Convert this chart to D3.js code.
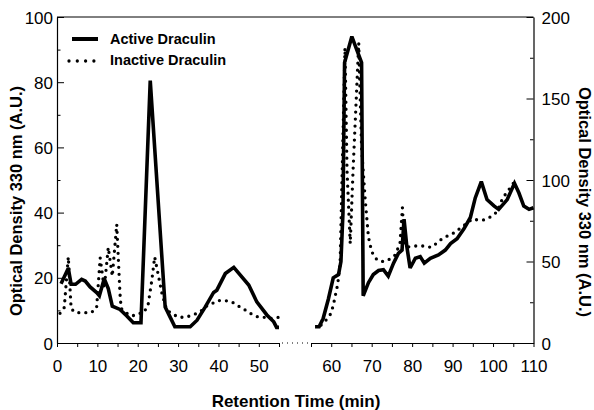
<!DOCTYPE html>
<html>
<head>
<meta charset="utf-8">
<script src="https://cdn.jsdelivr.net/npm/d3@7"></script>
<style>
  body { margin: 0; background: #fff; }
  svg text { font-family: "Liberation Sans", Arial, Helvetica, sans-serif; fill: #000; }
</style>
</head>
<body>
<svg id="chart" width="594" height="410"></svg>
<script>
// retention time (min) / optical density, left part read on the 0-100 axis
var activeTimeL = [1, 2.8, 3.5, 4.6, 6.1, 7, 8.2, 9.9, 10.5, 11.7, 12.7, 13.7, 15.6, 17.3, 18.9, 20.8, 23.1, 26.8, 28, 29.2, 33, 34.7, 36.7, 38.8, 39.6, 41.7, 43.8, 47.5, 49.5, 52, 53.7, 54.4, 55];
var activeValL = [18.2, 22.9, 18, 18, 19.5, 19, 17.2, 15.4, 14.5, 19.7, 16.7, 11.3, 10.3, 8.3, 6.2, 6.2, 80.5, 11, 8, 5, 5, 7, 11, 15.5, 16.2, 21.3, 23.2, 17.8, 12.6, 8.6, 6.5, 4.8, 4.8];
var inactiveTimeL = [0.75, 1.8, 2.8, 3.5, 4.6, 6.3, 8.4, 9.8, 10.7, 11.7, 12.7, 13.7, 14.8, 15.6, 15.9, 17.3, 18.7, 20.2, 21.2, 22.5, 23.5, 24.2, 26, 27.2, 28.4, 30.1, 31.8, 33.7, 35.5, 36.7, 38.4, 39.8, 41.7, 43.3, 45, 46.4, 47.9, 49.5, 51.2, 52.9, 55];
var inactiveValL = [9.1, 10.9, 26.4, 10.5, 9.3, 9.3, 9.3, 10.6, 26.1, 16.7, 29.3, 20.5, 36.4, 15.2, 10.6, 9.1, 8.3, 9.1, 9.1, 11.1, 19.3, 26.4, 15.2, 10.1, 9.1, 7.9, 7.9, 8.6, 9.6, 11.1, 12.1, 13, 13, 12.6, 11.3, 10.3, 9.1, 8.1, 7.9, 7.5, 7.9];

// right part read on the 0-200 axis
var activeTimeR = [56, 57, 58, 59.3, 60.5, 61.8, 62.4, 62.9, 63.3, 65.1, 67.5, 67.9, 69.2, 70.4, 71.7, 72.9, 74.1, 75.4, 76.6, 77.5, 78, 78.7, 79.5, 80.8, 82, 83, 84.5, 86.5, 88.2, 89.5, 91.1, 92.8, 94.4, 95.6, 97.1, 98.5, 100.3, 101.4, 103.5, 105.3, 106.4, 107.6, 108.9, 110];
var activeValR = [10, 10, 15, 27, 40, 42, 50, 80, 172, 188, 172, 29, 37, 42, 44.5, 45, 41, 49, 55, 57, 76, 59, 46, 52, 53, 49, 52, 54, 57, 61, 64, 70, 77, 89, 99, 88, 84, 82, 88, 98, 92, 84, 82, 83];
var inactiveTimeR = [57.5, 58.9, 59.9, 60.5, 61, 61.6, 62.2, 63.4, 63.9, 64.7, 65.4, 66.8, 67.5, 68.4, 69.2, 70, 71.3, 72.5, 73.9, 75.8, 77, 77.6, 78.1, 79.2, 80.8, 82.8, 84.7, 86.2, 87.4, 89, 90.7, 91.9, 93.6, 94.8, 96.2, 97.8, 99.5, 101, 102.4, 103.6, 105];
var inactiveValR = [11, 14.5, 18, 23, 29, 36, 49, 181, 106, 61, 106, 184, 120, 88, 65, 56, 51, 50, 50.5, 54, 61, 83, 60, 59, 59.5, 59.5, 58.7, 61.5, 64, 66, 68, 70.5, 73.5, 76, 75.5, 75.5, 77.5, 80.5, 89, 93, 98];

var ticksL = [0, 10, 20, 30, 40, 50];
var ticksR = [60, 70, 80, 90, 100, 110];
var seriesNames = ["Active Draculin", "Inactive Draculin"];

var svg = d3.select('#chart');
var plotTop = 17, plotBottom = 343;

var xL = d3.scaleLinear().domain([0, 55]).range([57, 279]);
var xR = d3.scaleLinear().domain([55, 110]).range([311, 533.5]);
var yL = d3.scaleLinear().domain([0, 100]).range([plotBottom, plotTop]);
var yR = d3.scaleLinear().domain([0, 200]).range([plotBottom, plotTop]);

function zip(t, v) { return t.map(function (d, i) { return [d, v[i]]; }); }

// frame top line
svg.append('line')
  .attr('x1', xL(0)).attr('x2', xR(110))
  .attr('y1', plotTop).attr('y2', plotTop)
  .attr('stroke', '#000').attr('stroke-width', 1);

// x axes (two pieces with a break)
function xAxis(scale, majors) {
  var g = svg.append('g').attr('transform', 'translate(0,' + plotBottom + ')');
  var ax = d3.axisBottom(scale)
    .tickValues(d3.range(scale.domain()[0], scale.domain()[1] + 0.1, 5))
    .tickSize(4).tickSizeOuter(0)
    .tickFormat(function (d) { return majors.indexOf(d) >= 0 ? d : ''; });
  g.call(ax);
  g.select('.domain').attr('stroke-width', 1.2);
  g.selectAll('text').attr('font-size', 17).attr('dy', 0).attr('y', 29);
  return g;
}
xAxis(xL, ticksL);
xAxis(xR, ticksR);

svg.append('line')
  .attr('x1', xL(55) + 3).attr('x2', xR(55) - 2)
  .attr('y1', plotBottom).attr('y2', plotBottom)
  .attr('stroke', '#000').attr('stroke-width', 1)
  .attr('stroke-dasharray', '1,4');

// y axes, ticks pointing inward
function yAxis(scale, left, step) {
  var x = left ? xL(0) : xR(110);
  var g = svg.append('g').attr('transform', 'translate(' + x + ',0)');
  var dom = scale.domain();
  var ax = (left ? d3.axisLeft(scale) : d3.axisRight(scale))
    .tickValues(d3.range(dom[0], dom[1] + 0.1, step)).tickSizeOuter(0)
    .tickFormat(function (d) { return d % (step * 2) === 0 ? d : ''; });
  g.call(ax);
  g.select('.domain').attr('stroke-width', 1.2);
  g.selectAll('.tick line')
    .attr('x2', function (d) { var len = d % (step * 2) === 0 ? 7 : 3.5; return left ? len : -len; });
  g.selectAll('text').attr('font-size', 17).attr('dy', '0.36em')
    .attr('x', left ? -4 : 8);
}
yAxis(yL, true, 10);
yAxis(yR, false, 25);

// series
var lineL = d3.line().x(function (d) { return xL(d[0]); }).y(function (d) { return yL(d[1]); });
var lineR = d3.line().x(function (d) { return xR(d[0]); }).y(function (d) { return yR(d[1]); });

function dotted(sel) {
  sel.attr('fill', 'none').attr('stroke', '#000').attr('stroke-width', 3.3)
    .attr('stroke-linecap', 'round').attr('stroke-dasharray', '0,7');
}
function solid(sel) {
  sel.attr('fill', 'none').attr('stroke', '#000').attr('stroke-width', 3.6)
    .attr('stroke-linejoin', 'miter').attr('stroke-miterlimit', 3);
}

svg.append('path').attr('d', lineL(zip(inactiveTimeL, inactiveValL))).call(dotted);
svg.append('path').attr('d', lineR(zip(inactiveTimeR, inactiveValR))).call(dotted);
svg.append('path').attr('d', lineL(zip(activeTimeL, activeValL))).call(solid);
svg.append('path').attr('d', lineR(zip(activeTimeR, activeValR))).call(solid);

// legend
var leg = svg.append('g');
leg.append('line').attr('x1', 72).attr('x2', 98).attr('y1', 39).attr('y2', 39)
  .attr('stroke', '#000').attr('stroke-width', 4);
leg.append('line').attr('x1', 69).attr('x2', 94).attr('y1', 61).attr('y2', 61)
  .call(dotted).attr('stroke-dasharray', '0,8.3');
leg.selectAll('text.lg').data(seriesNames).enter().append('text')
  .attr('x', 110).attr('y', function (d, i) { return 44 + i * 21; })
  .attr('font-size', 14.5).attr('font-weight', 'bold')
  .text(function (d) { return d; });

// axis titles
svg.append('text')
  .attr('transform', 'translate(16,201) rotate(-90)')
  .attr('text-anchor', 'middle').attr('dy', '0.35em')
  .attr('font-size', 16.5).attr('font-weight', 'bold')
  .text('Optical Density 330 nm (A.U.)');
svg.append('text')
  .attr('transform', 'translate(585,202) rotate(90)')
  .attr('text-anchor', 'middle').attr('dy', '0.35em')
  .attr('font-size', 16.5).attr('font-weight', 'bold')
  .text('Optical Density 330 nm (A.U.)');
svg.append('text')
  .attr('x', 296).attr('y', 407)
  .attr('text-anchor', 'middle')
  .attr('font-size', 17).attr('font-weight', 'bold')
  .text('Retention Time (min)');
</script>
</body>
</html>
